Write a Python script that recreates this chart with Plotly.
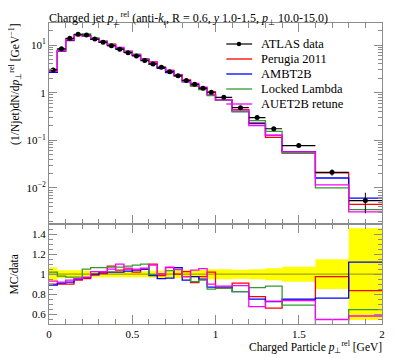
import plotly.graph_objects as go

# ---------------- data ----------------
bin_edges = [0.0, 0.05, 0.1, 0.15, 0.2, 0.25, 0.3, 0.35, 0.4, 0.45, 0.5, 0.55, 0.6,
             0.65, 0.7, 0.75, 0.8, 0.85, 0.9, 0.95, 1.0, 1.1, 1.2, 1.3, 1.4, 1.6, 1.8, 2.0]

atlas_data = [3.0, 8.3, 13.8, 16.8, 16.2, 13.3, 11.4, 9.6, 8.1, 6.9, 5.9, 4.7, 4.0,
              3.4, 2.75, 2.25, 1.8, 1.5, 1.24, 1.02, 0.80, 0.485, 0.30, 0.175,
              0.0775, 0.0213, 0.00545]

atlas_rel_err = [0.07, 0.04, 0.04, 0.04, 0.035, 0.03, 0.03, 0.03, 0.03, 0.03, 0.03,
                 0.03, 0.035, 0.035, 0.035, 0.04, 0.04, 0.04, 0.045, 0.05, 0.05,
                 0.045, 0.05, 0.06, 0.075, 0.15, 0.46]

ratio_perugia = [0.90, 0.90, 0.90, 0.94, 0.955, 0.99, 1.005, 1.08, 1.04, 1.05, 1.02,
                 1.05, 1.10, 0.985, 1.065, 1.00, 1.025, 0.915, 0.975, 1.02, 0.86,
                 0.91, 0.775, 0.66, 0.74, 0.975, 0.835]
ratio_ambt2b = [0.89, 0.91, 0.92, 0.95, 0.965, 1.00, 1.02, 1.02, 1.02, 1.03, 1.04,
                1.05, 0.985, 0.955, 0.96, 1.065, 0.94, 0.975, 0.95, 0.87, 0.87,
                0.825, 0.75, 0.725, 0.75, 0.76, 1.12]
ratio_locked = [1.02, 0.98, 0.97, 0.97, 1.05, 1.065, 1.065, 1.07, 1.07, 1.08, 1.09,
                1.10, 0.995, 1.005, 1.035, 1.05, 0.975, 0.925, 0.94, 0.85, 0.86,
                0.825, 0.865, 0.88, 0.69, 0.47, 0.645]
ratio_auet2b = [0.93, 0.92, 0.94, 0.955, 0.97, 1.025, 1.025, 1.05, 1.10, 1.06, 1.05,
                1.06, 1.09, 1.00, 1.07, 1.045, 0.975, 1.04, 1.055, 0.90, 0.88,
                0.885, 0.675, 0.73, 0.735, 0.545, 0.58]

series = [
    ("Perugia 2011", ratio_perugia, "#ff0000"),
    ("AMBT2B", ratio_ambt2b, "#0000ff"),
    ("Locked Lambda", ratio_locked, "#339933"),
    ("AUET2B retune", ratio_auet2b, "#ff00ff"),
]

# ---------------- geometry (page pixels; page body has an 8px margin) ----------------
OFF = 8
W, H = 397 - OFF, 358 - OFF
PL, PR, PT, PB = 49.3, 384.0, 23.0, 324.0      # plot area in page pixels
SPLIT = 224.3
ratio_frac = (PB - SPLIT) / (PB - PT)

def px2x(px):
    return (px - PL) / (PR - PL)

def px2y(py):
    return (PB - py) / (PB - PT)

centers = [(bin_edges[i] + bin_edges[i + 1]) / 2 for i in range(len(atlas_data))]
halfw = [(bin_edges[i + 1] - bin_edges[i]) / 2 for i in range(len(atlas_data))]

FONT = "Liberation Serif"
GRAY = "#8c8c8c"

fig = go.Figure()

# ---------------- ratio panel ----------------
band_lo = [1 - e for e in atlas_rel_err]
band_hi = [1 + e for e in atlas_rel_err]
fig.add_trace(go.Scatter(x=bin_edges, y=band_lo + [band_lo[-1]], mode="lines",
                         line=dict(shape="hv", width=0, color="#ffff00"),
                         xaxis="x", yaxis="y", showlegend=False, hoverinfo="skip"))
fig.add_trace(go.Scatter(x=bin_edges, y=band_hi + [band_hi[-1]], mode="lines",
                         line=dict(shape="hv", width=0, color="#ffff00"),
                         fill="tonexty", fillcolor="#ffff00",
                         xaxis="x", yaxis="y", showlegend=False, hoverinfo="skip"))
ones = [1.0] * (len(atlas_data) + 1)
fig.add_trace(go.Scatter(x=bin_edges, y=ones, mode="lines",
                         line=dict(shape="hv", width=1.2, color="#a3a300"),
                         xaxis="x", yaxis="y", showlegend=False))
for name, r, c in series:
    fig.add_trace(go.Scatter(x=bin_edges, y=r + [r[-1]], mode="lines",
                             line=dict(shape="hv", width=1.3, color=c),
                             xaxis="x", yaxis="y", showlegend=False))

# ---------------- main panel ----------------
for name, r, c in series:
    mc = [ri * d for ri, d in zip(r, atlas_data)]
    fig.add_trace(go.Scatter(x=bin_edges, y=mc + [mc[-1]], mode="lines",
                             line=dict(shape="hv", width=1.3, color=c),
                             xaxis="x2", yaxis="y2", name=name, showlegend=False))

fig.add_trace(go.Scatter(
    x=centers, y=atlas_data, mode="markers",
    marker=dict(color="black", size=5),
    error_x=dict(type="data", array=halfw, width=0, color="black", thickness=1.2),
    error_y=dict(type="data", array=[e * d for e, d in zip(atlas_rel_err, atlas_data)],
                 width=0, color="black", thickness=1),
    xaxis="x2", yaxis="y2", name="ATLAS data", showlegend=False))

# ---------------- legend (drawn manually) ----------------
legend_items = [("ATLAS data", "black")] + [(n, c) for n, _, c in series]
shapes = []
annotations = []
for i, (name, c) in enumerate(legend_items):
    py = 44.0 + i * 15.0
    shapes.append(dict(type="line", xref="paper", yref="paper",
                       x0=px2x(227.5), x1=px2x(253.5), y0=px2y(py), y1=px2y(py),
                       line=dict(color=c, width=1.3 if i else 1.2)))
    if i == 0:
        shapes.append(dict(type="circle", xref="paper", yref="paper",
                           x0=px2x(238), x1=px2x(242.5), y0=px2y(py + 2.25), y1=px2y(py - 2.25),
                           fillcolor="black", line=dict(color="black", width=0)))
    annotations.append(dict(text=name, xref="paper", yref="paper", x=px2x(260.5),
                            y=px2y(py), xanchor="left", yanchor="middle", showarrow=False,
                            font=dict(family=FONT, size=12.5, color="black")))

# titles
annotations.append(dict(
    text="Charged jet <i>p</i><sub>⊥</sub><sup>rel</sup> (anti-<i>k</i><sub><i>t</i></sub>, R = 0.6, <i>y</i> 1.0-1.5, <i>p</i><sub>⊥</sub> 10.0-15.0)",
    xref="paper", yref="paper", x=px2x(48.0), y=px2y(8.5), xanchor="left", yanchor="top",
    showarrow=False, borderpad=0, font=dict(family=FONT, size=12, color="black")))
annotations.append(dict(
    text="(1/Njet)dN/d<i>p</i><sub>⊥</sub><sup>rel</sup> [GeV<sup>−1</sup>]",
    xref="paper", yref="paper", x=px2x(14.5), y=px2y(22), xanchor="center", yanchor="top",
    textangle=-90, showarrow=False, font=dict(family=FONT, size=11.5, color="black")))
annotations.append(dict(
    text="MC/data", xref="paper", yref="paper", x=px2x(14.5), y=px2y(274),
    xanchor="center", yanchor="middle", textangle=-90, showarrow=False,
    font=dict(family=FONT, size=11.5, color="black")))
annotations.append(dict(
    text="Charged Particle <i>p</i><sub>⊥</sub><sup>rel</sup> [GeV]",
    xref="paper", yref="paper", x=px2x(386), y=px2y(347), xanchor="right", yanchor="middle",
    showarrow=False, font=dict(family=FONT, size=11.5, color="black")))

tickfont = dict(family=FONT, size=11, color="black")
common_x = dict(range=[0, 2], showline=True, linecolor=GRAY, linewidth=1, mirror="ticks",
                ticks="inside", ticklen=9, tickcolor=GRAY, tickwidth=1,
                tick0=0, dtick=0.5, showgrid=False, zeroline=False,
                minor=dict(ticks="inside", ticklen=5, dtick=0.1, tickcolor=GRAY, showgrid=False))

fig.update_layout(
    width=W, height=H,
    margin=dict(l=PL - OFF, r=397 - PR, t=PT - OFF, b=358 - PB),
    paper_bgcolor="white", plot_bgcolor="white",
    showlegend=False,
    shapes=shapes, annotations=annotations,
    xaxis=dict(domain=[0, 1], anchor="y", tickfont=tickfont, **common_x),
    xaxis2=dict(domain=[0, 1], anchor="y2", matches="x", showticklabels=False, **common_x),
    yaxis=dict(domain=[0, ratio_frac], anchor="x", range=[0.5, 1.5],
               tick0=0.2, dtick=0.2, showline=True, linecolor=GRAY, linewidth=1,
               mirror="ticks", ticks="inside", ticklen=8, tickcolor=GRAY, showgrid=False,
               zeroline=False, tickfont=tickfont,
               minor=dict(ticks="inside", ticklen=4, dtick=0.05, tickcolor=GRAY, showgrid=False)),
    yaxis2=dict(domain=[ratio_frac, 1], anchor="x2", type="log", range=[-2.762, 1.4615],
                tickmode="array", tickvals=[0.01, 0.1, 1, 10],
                ticktext=["10<sup>−2</sup>", "10<sup>−1</sup>", "1", "10<sup>1</sup>"],
                showline=True, linecolor=GRAY, linewidth=1, mirror="ticks",
                ticks="inside", ticklen=8, tickcolor=GRAY, showgrid=False, zeroline=False,
                tickfont=tickfont,
                minor=dict(ticks="inside", ticklen=4, dtick="D1", tickcolor=GRAY, showgrid=False)),
)

fig.write_html("out.html")
